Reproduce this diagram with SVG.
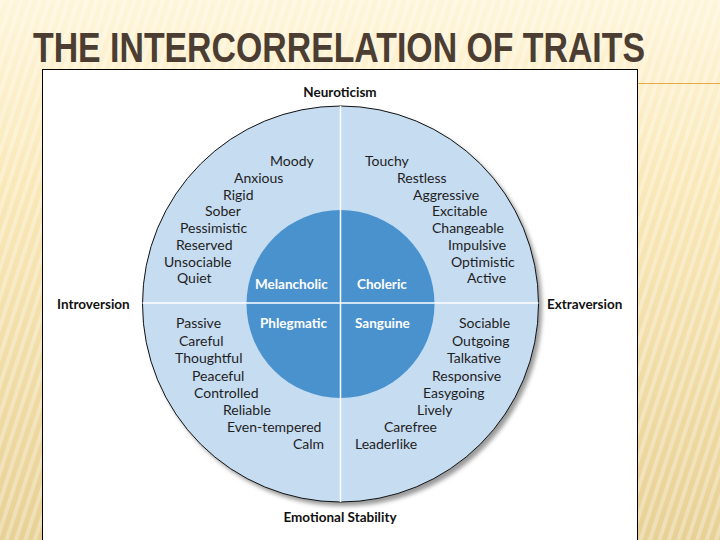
<svg xmlns="http://www.w3.org/2000/svg" width="720" height="540" viewBox="0 0 720 540">
<defs>
<linearGradient id="bg" x1="0" y1="0" x2="0" y2="1">
<stop offset="0" stop-color="#FEF5DA"/>
<stop offset="0.35" stop-color="#F9E8B8"/>
<stop offset="1" stop-color="#E8D196"/>
</linearGradient>
<pattern id="stripes" width="9" height="9" patternUnits="userSpaceOnUse" patternTransform="rotate(18)">
<rect x="0" y="0" width="4" height="9" fill="#FFFFFF" fill-opacity="0.3"/>
</pattern>
<filter id="blur" x="-10%" y="-10%" width="120%" height="120%">
<feGaussianBlur stdDeviation="2"/>
</filter>
<style>
.title{font-family:"Liberation Sans",Arial,sans-serif;font-size:42px;font-weight:bold;fill:#4B3D32;}
.trait{font-family:Lato,"Open Sans",sans-serif;font-size:14px;fill:#1E1E1E;}
.axis{font-family:Lato,"Open Sans",sans-serif;font-size:13.5px;font-weight:bold;fill:#111;}
.temp{font-family:Lato,"Open Sans",sans-serif;font-size:13.5px;font-weight:bold;fill:#FFFFFF;}
.div{stroke:#FFFFFF;stroke-width:1.5;}
</style>
</defs>

<g id="background">
<rect x="0" y="0" width="720" height="540" fill="url(#bg)"/>
<rect x="0" y="0" width="720" height="540" fill="url(#stripes)"/>
<line x1="638" y1="83.5" x2="720" y2="83.5" stroke="#E9A945" stroke-width="1.2"/>
</g>

<g id="title">
<text class="title" x="33" y="62" textLength="612" lengthAdjust="spacingAndGlyphs">THE INTERCORRELATION OF TRAITS</text>
</g>

<g id="panel">
<rect x="42.5" y="69.5" width="595" height="480" fill="#FFFFFF" stroke="#000000" stroke-width="1"/>
</g>

<g id="outer-circle">
<circle cx="344" cy="308" r="198" fill="#9A9A9A" filter="url(#blur)"/>
<circle cx="340.5" cy="304" r="198" fill="#C6DCF1" stroke="#111" stroke-width="1"/>
</g>

<g id="inner-circle">
<circle cx="340.5" cy="304" r="94" fill="#4A92CE"/>
</g>

<g id="dividers">
<line class="div" x1="340.5" y1="106" x2="340.5" y2="502"/>
<line class="div" x1="142.5" y1="303" x2="538.5" y2="303"/>
</g>

<g id="axis-labels">
<text class="axis" x="340" y="97" text-anchor="middle">Neuroticism</text>
<text class="axis" x="57" y="309">Introversion</text>
<text class="axis" x="547" y="309">Extraversion</text>
<text class="axis" x="340" y="522" text-anchor="middle">Emotional Stability</text>
</g>

<g id="melancholic">
<text class="temp" x="255" y="289">Melancholic</text>
<text class="trait" x="270" y="166">Moody</text>
<text class="trait" x="234" y="183">Anxious</text>
<text class="trait" x="223" y="200">Rigid</text>
<text class="trait" x="205" y="216">Sober</text>
<text class="trait" x="180" y="233">Pessimistic</text>
<text class="trait" x="176" y="250">Reserved</text>
<text class="trait" x="164" y="267">Unsociable</text>
<text class="trait" x="177" y="283">Quiet</text>
</g>

<g id="choleric">
<text class="temp" x="357" y="289">Choleric</text>
<text class="trait" x="365" y="166">Touchy</text>
<text class="trait" x="397" y="183">Restless</text>
<text class="trait" x="413" y="200">Aggressive</text>
<text class="trait" x="432" y="216">Excitable</text>
<text class="trait" x="432" y="233">Changeable</text>
<text class="trait" x="448" y="250">Impulsive</text>
<text class="trait" x="451" y="267">Optimistic</text>
<text class="trait" x="467" y="283">Active</text>
</g>

<g id="phlegmatic">
<text class="temp" x="260" y="328">Phlegmatic</text>
<text class="trait" x="176" y="328">Passive</text>
<text class="trait" x="179" y="346">Careful</text>
<text class="trait" x="175" y="363">Thoughtful</text>
<text class="trait" x="192" y="381">Peaceful</text>
<text class="trait" x="194" y="398">Controlled</text>
<text class="trait" x="223" y="415">Reliable</text>
<text class="trait" x="227" y="432">Even-tempered</text>
<text class="trait" x="293" y="449">Calm</text>
</g>

<g id="sanguine">
<text class="temp" x="355" y="328">Sanguine</text>
<text class="trait" x="459" y="328">Sociable</text>
<text class="trait" x="452" y="346">Outgoing</text>
<text class="trait" x="447" y="363">Talkative</text>
<text class="trait" x="432" y="381">Responsive</text>
<text class="trait" x="423" y="398">Easygoing</text>
<text class="trait" x="417" y="415">Lively</text>
<text class="trait" x="384" y="432">Carefree</text>
<text class="trait" x="355" y="449">Leaderlike</text>
</g>
</svg>
